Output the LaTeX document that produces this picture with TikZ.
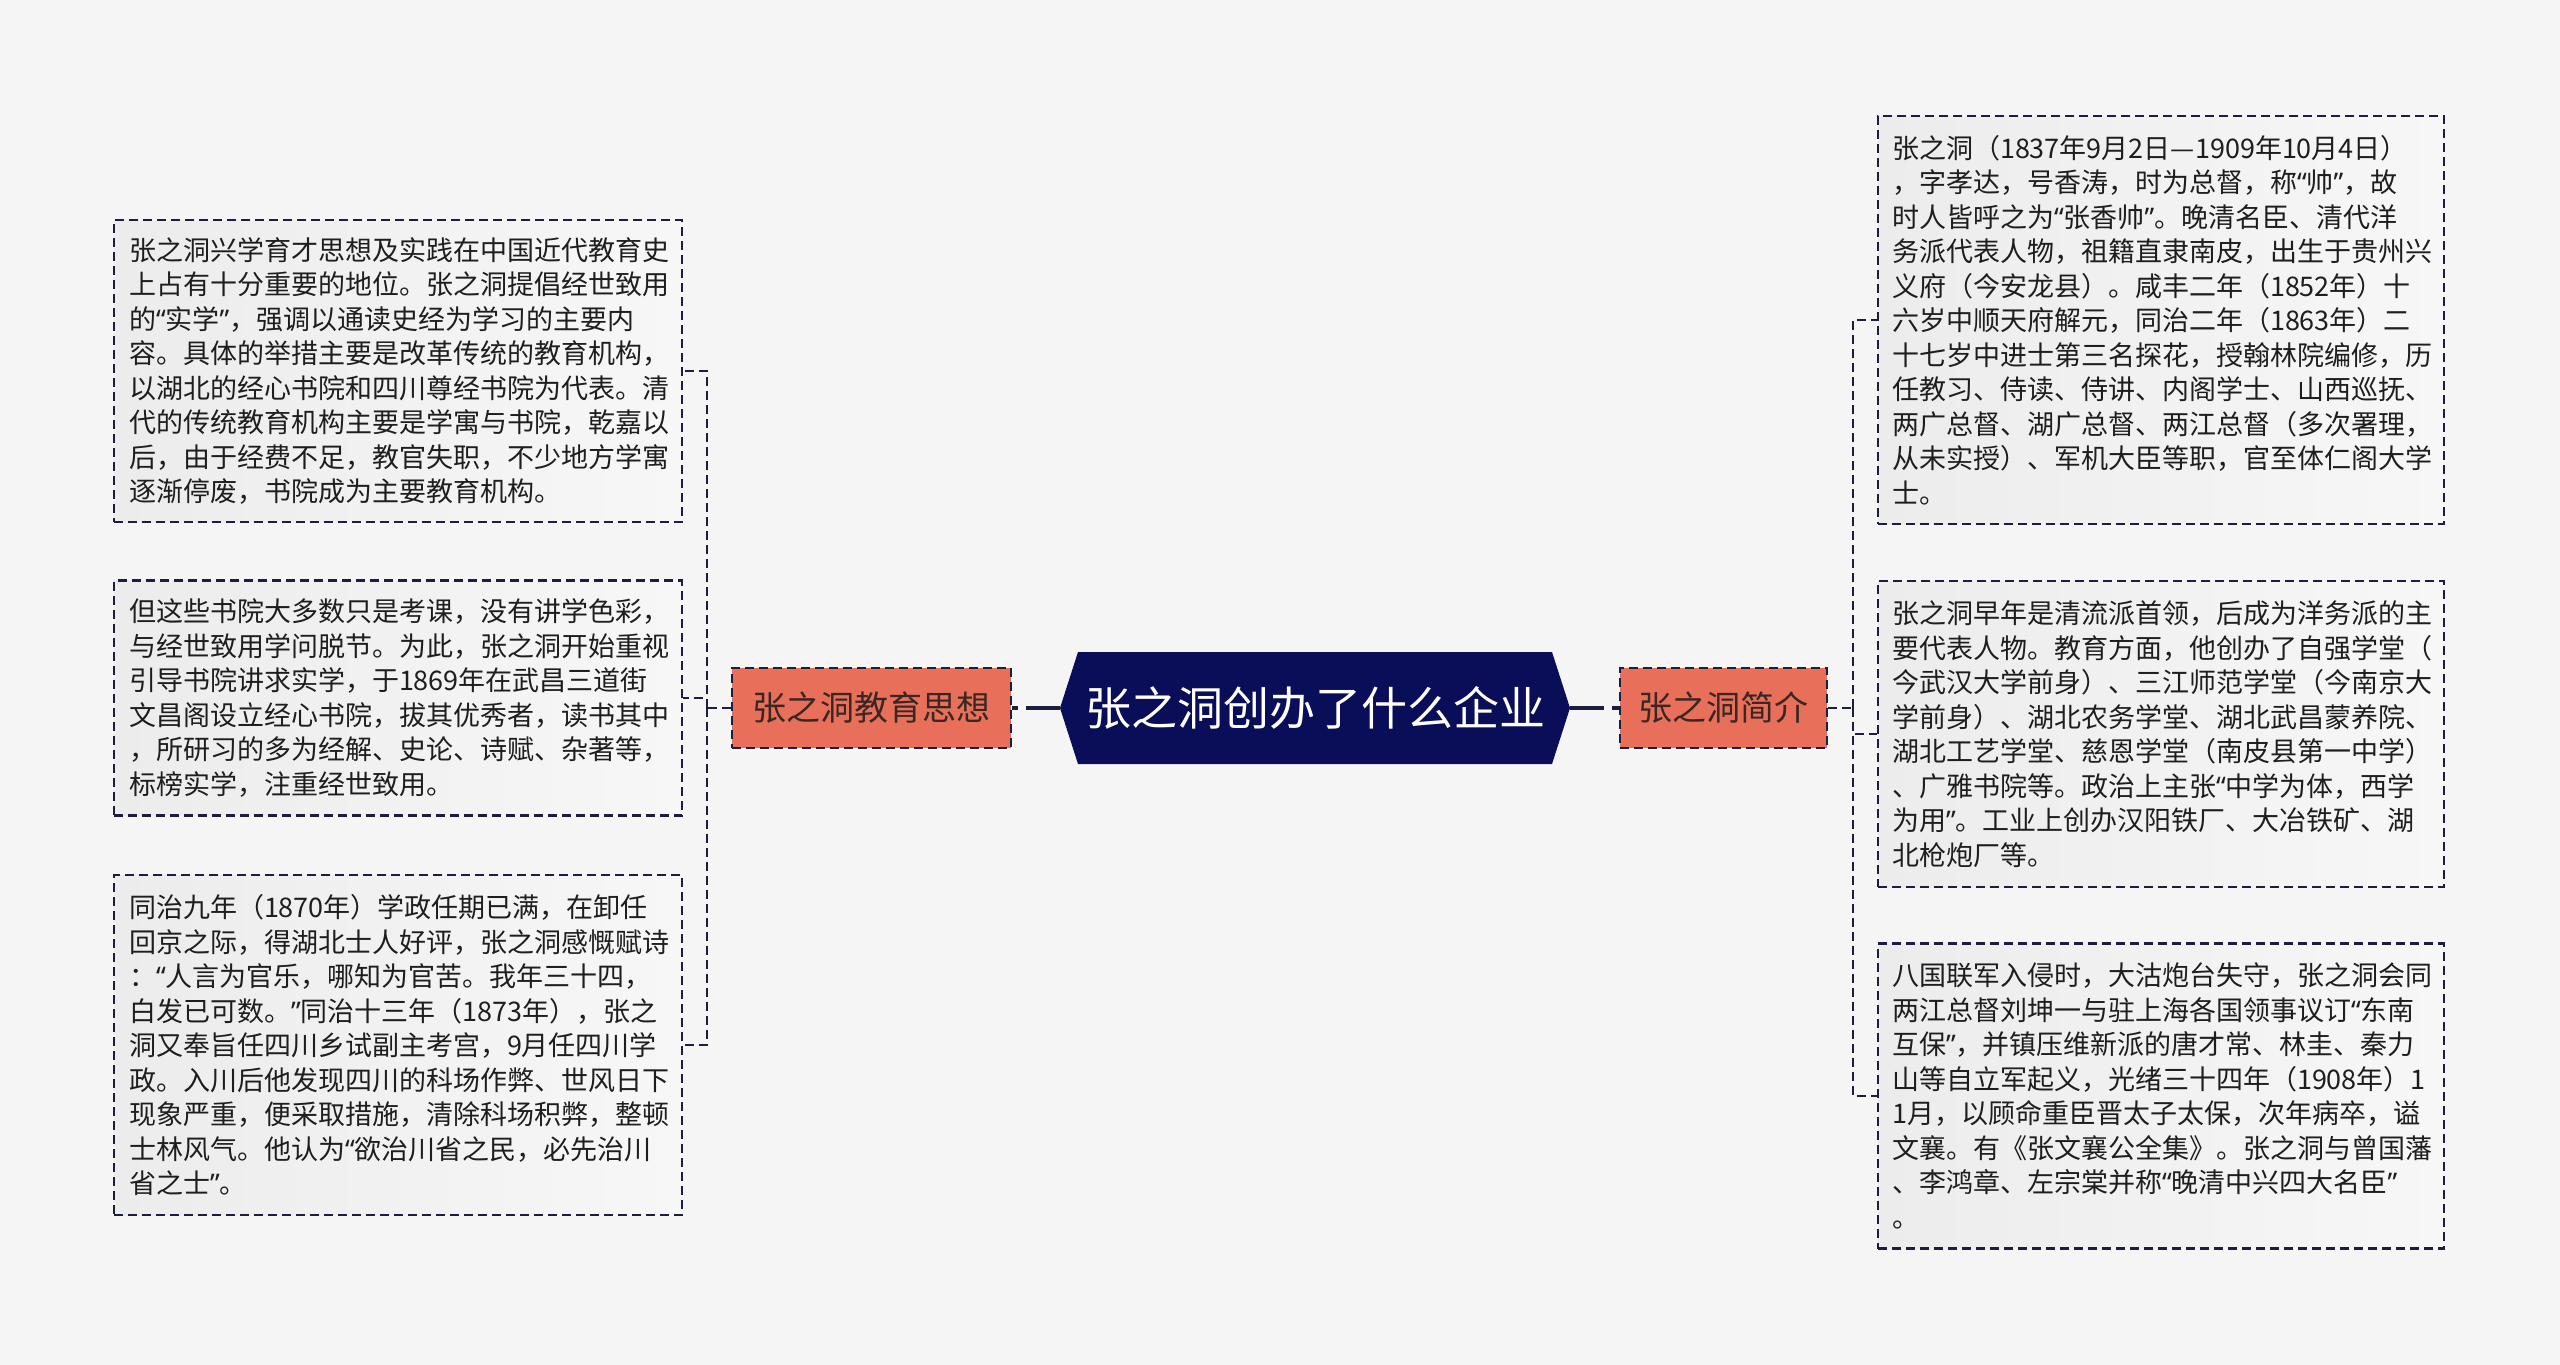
\documentclass[tikz,border=0pt]{standalone}
\usepackage{fontspec}
\setmainfont{Noto Sans CJK SC}
\newfontfamily\qf{Noto Sans}
\newcommand{\qo}{{\qf “}}
\newcommand{\qc}{{\qf ”}}
\usetikzlibrary{calc}
\definecolor{pagebg}{RGB}{245,245,245}
\definecolor{boxL}{RGB}{236,236,236}
\definecolor{boxR}{RGB}{247,247,247}
\definecolor{navyc}{RGB}{10,14,88}
\definecolor{dashc}{RGB}{28,30,62}
\definecolor{orangec}{RGB}{232,112,90}
\definecolor{otext}{RGB}{58,38,34}
\definecolor{btext}{RGB}{30,30,30}
\tikzset{
  x=1pt, y=-1pt,
  leafbox/.style={draw=dashc, line width=2.5pt, dash pattern=on 9pt off 5pt,
    left color=boxL, right color=boxR, shading angle=90,
    rectangle, inner sep=0pt, text width=538pt, align=left, text=btext,
    font=\fontsize{27pt}{34.5pt}\selectfont},
  topicbox/.style={draw=dashc, line width=2.5pt, dash pattern=on 9pt off 5pt,
    fill=orangec, rectangle, inner sep=0pt, minimum height=80pt, text=otext,
    font=\fontsize{34pt}{40pt}\selectfont},
  rootbox/.style={rectangle, inner sep=0pt, minimum width=510pt, minimum height=112pt,
    text=white, font=\fontsize{46pt}{52pt}\selectfont},
  thinconn/.style={draw=dashc, line width=2.5pt, dash pattern=on 9pt off 5pt},
  thickconn/.style={draw=dashc, line width=4.5pt, dash pattern=on 34pt off 8pt}
}
\begin{document}
\begin{tikzpicture}
\useasboundingbox (0,0) rectangle (2560,1365);
\fill[pagebg] (0,0) rectangle (2560,1365);

% root hexagon
\coordinate (cc) at (1315,708);
\fill[navyc] ([xshift=-255pt]cc) -- ++(18,-56) -- ++(474,0) -- ++(18,56) -- ++(-18,56) -- ++(-474,0) -- cycle;
\node[rootbox] (c) at (cc) {张之洞创办了什么企业};

% topic nodes
\node[topicbox, minimum width=279pt] (lo) at (871.5,708) {张之洞教育思想};
\node[topicbox, minimum width=207pt] (ro) at (1723.5,708) {张之洞简介};

% left leaves
\node[leafbox, minimum width=568pt, minimum height=302pt] (l1) at (398,371) {张之洞兴学育才思想及实践在中国近代教育史\\上占有十分重要的地位。张之洞提倡经世致用\\的\qo 实学\qc ，强调以通读史经为学习的主要内\\容。具体的举措主要是改革传统的教育机构，\\以湖北的经心书院和四川尊经书院为代表。清\\代的传统教育机构主要是学寓与书院，乾嘉以\\后，由于经费不足，教官失职，不少地方学寓\\逐渐停废，书院成为主要教育机构。};
\node[leafbox, minimum width=568pt, minimum height=235pt] (l2) at (398,698) {但这些书院大多数只是考课，没有讲学色彩，\\与经世致用学问脱节。为此，张之洞开始重视\\引导书院讲求实学，于1869年在武昌三道街\\文昌阁设立经心书院，拔其优秀者，读书其中\\，所研习的多为经解、史论、诗赋、杂著等，\\标榜实学，注重经世致用。};
\node[leafbox, minimum width=568pt, minimum height=340pt] (l3) at (398,1045) {同治九年（1870年）学政任期已满，在卸任\\回京之际，得湖北士人好评，张之洞感慨赋诗\\：\qo 人言为官乐，哪知为官苦。我年三十四，\\白发已可数。\qc 同治十三年（1873年），张之\\洞又奉旨任四川乡试副主考宫，9月任四川学\\政。入川后他发现四川的科场作弊、世风日下\\现象严重，便采取措施，清除科场积弊，整顿\\士林风气。他认为\qo 欲治川省之民，必先治川\\省之士\qc 。};

% right leaves
\node[leafbox, minimum width=566pt, minimum height=408pt] (r1) at (2161,320) {张之洞（1837年9月2日—1909年10月4日）\\，字孝达，号香涛，时为总督，称\qo 帅\qc ，故\\时人皆呼之为\qo 张香帅\qc 。晚清名臣、清代洋\\务派代表人物，祖籍直隶南皮，出生于贵州兴\\义府（今安龙县）。咸丰二年（1852年）十\\六岁中顺天府解元，同治二年（1863年）二\\十七岁中进士第三名探花，授翰林院编修，历\\任教习、侍读、侍讲、内阁学士、山西巡抚、\\两广总督、湖广总督、两江总督（多次署理，\\从未实授）、军机大臣等职，官至体仁阁大学\\士。};
\node[leafbox, minimum width=566pt, minimum height=306pt] (r2) at (2161,734) {张之洞早年是清流派首领，后成为洋务派的主\\要代表人物。教育方面，他创办了自强学堂（\\今武汉大学前身）、三江师范学堂（今南京大\\学前身）、湖北农务学堂、湖北武昌蒙养院、\\湖北工艺学堂、慈恩学堂（南皮县第一中学）\\、广雅书院等。政治上主张\qo 中学为体，西学\\为用\qc 。工业上创办汉阳铁厂、大冶铁矿、湖\\北枪炮厂等。};
\node[leafbox, minimum width=566pt, minimum height=305pt] (r3) at (2161,1096) {八国联军入侵时，大沽炮台失守，张之洞会同\\两江总督刘坤一与驻上海各国领事议订\qo 东南\\互保\qc ，并镇压维新派的唐才常、林圭、秦力\\山等自立军起义，光绪三十四年（1908年）1\\1月，以顾命重臣晋太子太保，次年病卒，谥\\文襄。有《张文襄公全集》。张之洞与曾国藩\\、李鸿章、左宗棠并称\qo 晚清中兴四大名臣\qc \\。};

% connectors root - topics
\draw[thickconn] (c.west) -- (lo.east);
\draw[thickconn] (c.east) -- (ro.west);

% left bracket
\coordinate (lb) at (707,708);
\draw[thinconn] (lo.west) -- (lb);
\draw[thinconn] (lb) |- (l1.east);
\draw[thinconn] (lb) |- (l2.east);
\draw[thinconn] (lb) |- (l3.east);

% right bracket
\coordinate (rb) at (1853,708);
\draw[thinconn] (ro.east) -- (rb);
\draw[thinconn] (rb) |- (r1.west);
\draw[thinconn] (rb) |- (r2.west);
\draw[thinconn] (rb) |- (r3.west);
\end{tikzpicture}
\end{document}
